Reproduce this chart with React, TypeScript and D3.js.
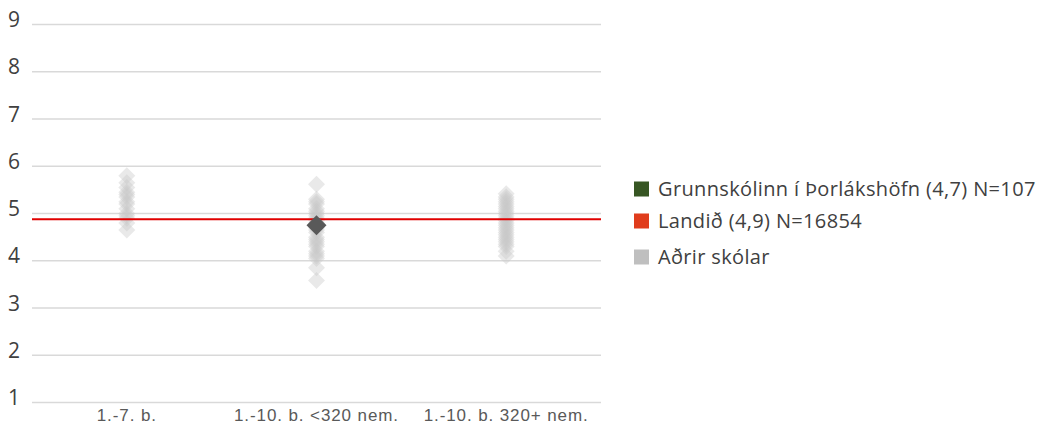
import * as d3 from 'd3'

const categories = ['1.-7. b.', '1.-10. b. <320 nem.', '1.-10. b. 320+ nem.']

const otherSchools: number[][] = [
  [5.8, 5.65, 5.55, 5.45, 5.4, 5.35, 5.25, 5.2, 5.1, 5.0, 4.95, 4.9, 4.8, 4.65],
  [5.62, 5.3, 5.25, 5.2, 5.1, 5.05, 5.0, 4.95, 4.9, 4.85, 4.8, 4.7, 4.65, 4.6, 4.5, 4.45, 4.4, 4.35, 4.3, 4.2, 4.15, 4.1, 4.05, 3.85, 3.58],
  [5.42, 5.35, 5.3, 5.25, 5.2, 5.15, 5.1, 5.05, 5.0, 4.95, 4.9, 4.85, 4.8, 4.75, 4.7, 4.65, 4.6, 4.55, 4.5, 4.45, 4.4, 4.35, 4.3, 4.2, 4.1],
]

const schoolCategory = 1
const schoolValue = 4.75
const nationalValue = 4.88

const yTicks = [1, 2, 3, 4, 5, 6, 7, 8, 9]

const legendItems = [
  { label: 'Grunnskólinn í Þorlákshöfn (4,7) N=107', color: '#375623' },
  { label: 'Landið (4,9) N=16854', color: '#e03c1c' },
  { label: 'Aðrir skólar', color: '#bfbfbf' },
]

const font = '"Open Sans", sans-serif'
const axisFont = '"Liberation Sans", Arial, sans-serif'

const App = () => {
  const left = 32
  const right = 601
  const x = d3.scaleBand<string>().domain(categories).range([left, right])
  const y = d3.scaleLinear().domain([1, 9]).range([402.5, 24.5])
  const diamond = (cx: number, cy: number, r: number) =>
    `M${cx},${cy - r}L${cx + r},${cy}L${cx},${cy + r}L${cx - r},${cy}Z`

  return (
    <svg width={1040} height={427} style={{ position: 'absolute', left: 0, top: 0 }}>
      <rect width={1040} height={427} fill="#fff" />
      {yTicks.map((t) => (
        <g key={t}>
          <line x1={left} x2={right} y1={y(t)} y2={y(t)} stroke="#d9d9d9" strokeWidth={1.5} />
          <text x={14} y={y(t) + 2.5} textAnchor="middle" fontFamily={font} fontSize={21} fill="#404040">
            {t}
          </text>
        </g>
      ))}
      {categories.map((c) => (
        <text
          key={c}
          x={(x(c) ?? 0) + x.bandwidth() / 2}
          y={421}
          textAnchor="middle"
          fontFamily={axisFont}
          fontSize={17}
          letterSpacing={0.9}
          fill="#595959"
        >
          {c}
        </text>
      ))}
      {otherSchools.map((vals, i) =>
        vals.map((v, j) => (
          <path
            key={i + '-' + j}
            d={diamond((x(categories[i]) ?? 0) + x.bandwidth() / 2, y(v), 8.5)}
            fill="#c8c8c8"
            fillOpacity={0.4}
          />
        ))
      )}
      <line x1={left} x2={right} y1={y(nationalValue)} y2={y(nationalValue)} stroke="#e00000" strokeWidth={2} />
      <path
        d={diamond((x(categories[schoolCategory]) ?? 0) + x.bandwidth() / 2, y(schoolValue), 10)}
        fill="#595959"
      />
      {legendItems.map((item, i) => {
        const ly = [189, 221, 257][i]
        return (
          <g key={item.label}>
            <rect x={634} y={ly - 7.5} width={15} height={15} fill={item.color} />
            <text x={658} y={ly + 7} fontFamily={font} fontSize={20} letterSpacing={0.35} fill="#404040">
              {item.label}
            </text>
          </g>
        )
      })}
    </svg>
  )
}

export default App
